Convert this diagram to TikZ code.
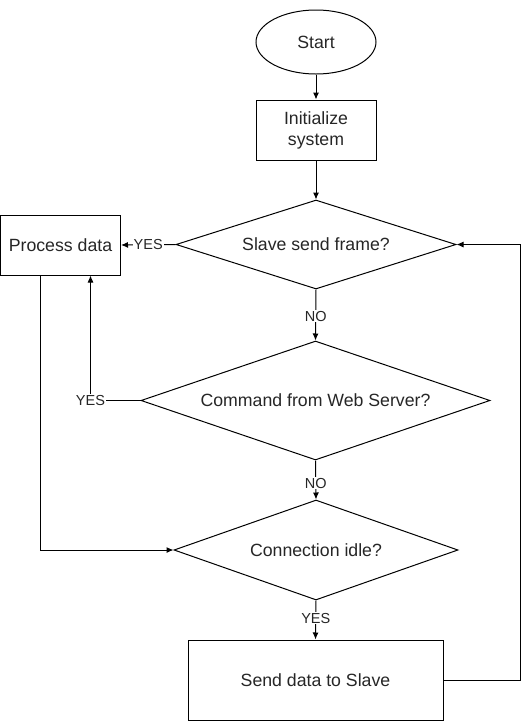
\documentclass[tikz,border=0pt]{standalone}
\usepackage{fontspec}
\setmainfont{Liberation Sans}
\usetikzlibrary{shapes.geometric,arrows.meta}
\begin{document}
\begin{tikzpicture}[x=1pt,y=-1pt,line width=1pt,
  txt/.style={font=\fontsize{17.7}{21}\selectfont, text=black!85},
  box/.style={txt, draw, rectangle, inner sep=0pt, align=center},
  startst/.style={txt, draw, ellipse, inner sep=0pt},
  dia/.style={txt, draw, diamond, inner sep=0pt, aspect=3},
  arr/.style={-{Latex[length=7pt,width=6pt]}},
  lab/.style={fill=white, inner sep=1pt, font=\fontsize{14.5}{16}\selectfont, text=black!85}]
\useasboundingbox (0,0) rectangle (529,721);
\node[startst, minimum width=120pt, minimum height=64pt] (start) at (316,42) {Start};
\node[box, minimum width=120pt, minimum height=60pt] (init) at (316,130) {Initialize\\system};
\node[dia, minimum width=280pt, minimum height=89pt] (d1) at (316,244.5) {Slave send frame?};
\node[box, minimum width=120pt, minimum height=60pt] (proc) at (60.5,245) {Process data};
\node[dia, minimum width=349pt, minimum height=119pt] (d2) at (315.5,400.5) {Command from Web Server?};
\node[dia, minimum width=284pt, minimum height=100pt] (d3) at (316,550) {Connection idle?};
\node[box, minimum width=255pt, minimum height=80pt] (send) at (315.5,680) {Send data to Slave};
\coordinate (yescorner) at (90.5,400.5);
\coordinate (loop) at (520,680);
\draw[arr] (start) -- (init);
\draw[arr] (init) -- (d1);
\draw[arr] (d1.west) -- node[lab]{YES} (proc.east);
\draw[arr] (d1.south) -- node[lab, pos=0.52]{NO} (d2.north);
\draw[arr] (d2.west) -- (yescorner) -- (yescorner |- proc.south);
\node[lab] (yeslab) at (yescorner) {YES};
\draw[arr] (d2.south) -- node[lab, pos=0.58]{NO} (d3.north);
\draw[arr] ([xshift=-20pt]proc.south) |- (d3.west);
\draw[arr] (d3.south) -- node[lab, pos=0.45]{YES} (send.north);
\draw[arr] (send.east) -- (loop) |- (d1.east);
\end{tikzpicture}
\end{document}
